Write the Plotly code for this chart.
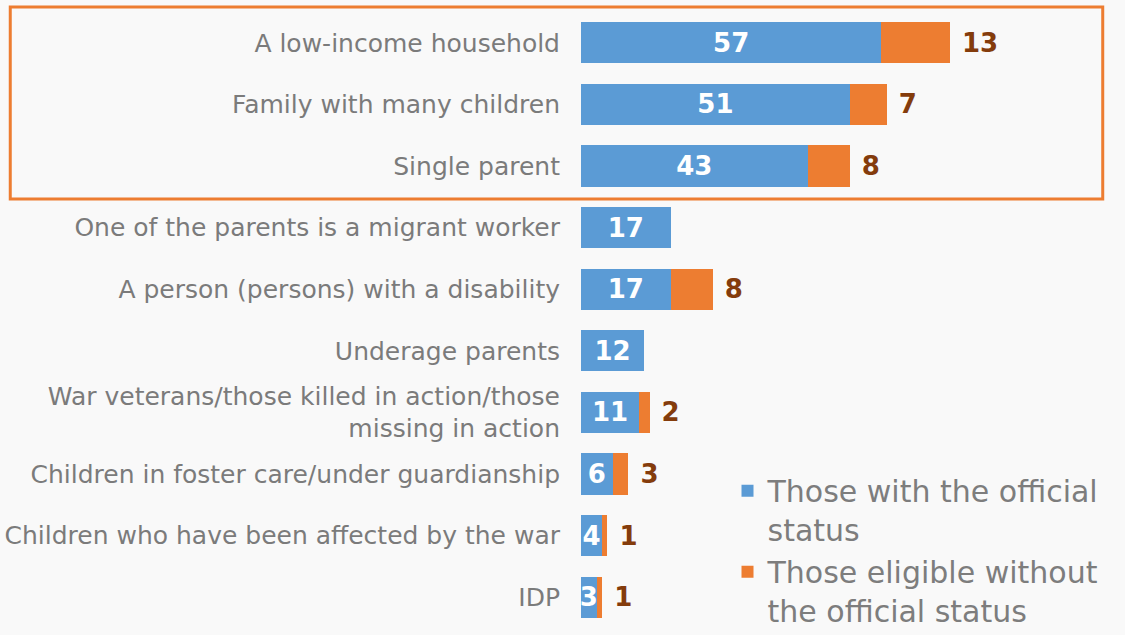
import plotly.graph_objects as go

categories = [
    "A low-income household",
    "Family with many children",
    "Single parent",
    "One of the parents is a migrant worker",
    "A person (persons) with a disability",
    "Underage parents",
    "War veterans/those killed in action/those<br>missing in action",
    "Children in foster care/under guardianship",
    "Children who have been affected by the war",
    "IDP",
]
with_status = [57, 51, 43, 17, 17, 12, 11, 6, 4, 3]
without_status = [13, 7, 8, None, 8, None, 2, 3, 1, 1]

BLUE = "#5b9bd5"
ORANGE = "#ed7d31"
BROWN = "#843c0c"
GREY = "#7b7b7b"
FONT = "DejaVu Sans"

fig = go.Figure()
fig.add_trace(go.Bar(
    y=categories,
    x=with_status,
    orientation="h",
    name="Those with the official<br>status",
    marker=dict(color=BLUE, line=dict(width=0)),
    text=[str(v) for v in with_status],
    textposition="inside",
    insidetextanchor="middle",
    textangle=0,
    constraintext="none",
    textfont=dict(family=FONT, size=26, color="white", weight="bold"),
))
fig.add_trace(go.Bar(
    y=categories,
    x=without_status,
    orientation="h",
    name="Those eligible without<br>the official status",
    marker=dict(color=ORANGE, line=dict(width=0)),
    text=["\u00a0" + str(v) if v else "" for v in without_status],
    textposition="outside",
    textangle=0,
    constraintext="none",
    cliponaxis=False,
    outsidetextfont=dict(family=FONT, size=26, color=BROWN, weight="bold"),
))

# orange frame around the top three rows
fig.add_shape(
    type="rect", xref="paper", yref="paper",
    x0=-1.083, x1=0.99, y0=0.6964, y1=1.008,
    line=dict(color=ORANGE, width=3),
)

fig.update_layout(
    width=1125,
    height=635,
    barmode="stack",
    bargap=0.33,
    margin=dict(l=581, r=17, t=12, b=7, autoexpand=False),
    paper_bgcolor="#f9f9f9",
    plot_bgcolor="#f9f9f9",
    font=dict(family=FONT, color=GREY, size=25),
    showlegend=True,
    legend=dict(
        x=0.278, y=0.265, xanchor="left", yanchor="top",
        font=dict(family=FONT, size=30, color="#7d7d7d"),
        traceorder="normal",
        valign="top",
        tracegroupgap=30,
        bgcolor="rgba(0,0,0,0)",
    ),
    xaxis=dict(range=[0, 100], visible=False, automargin=False),
    yaxis=dict(
        range=[9.5, -0.5],
        automargin=False,
        showgrid=False,
        zeroline=False,
        showline=False,
        ticks="",
        ticklabelstandoff=20,
        tickfont=dict(family=FONT, size=25, color=GREY),
    ),
)

fig.write_html("out.html", config={"displayModeBar": False},
               post_script="document.body.style.margin='0';")
